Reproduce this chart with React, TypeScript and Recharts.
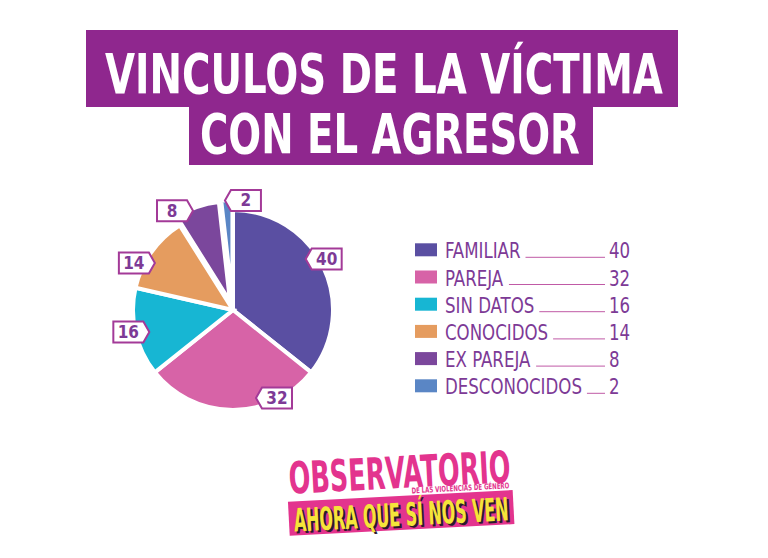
import React, { useLayoutEffect, useRef, useState } from 'react';
import { PieChart, Pie, Cell, Legend, Sector } from 'recharts';

const CATEGORIES = ['FAMILIAR', 'PAREJA', 'SIN DATOS', 'CONOCIDOS', 'EX PAREJA', 'DESCONOCIDOS'];
const VALUES = [40, 32, 16, 14, 8, 2];
const COLORS = ['#5a4fa2', '#d763a7', '#17b6d3', '#e59c5f', '#7b479c', '#5a86c5'];

// the two smallest slices are pulled out of the pie a little
const EXPLODE = [0, 0, 0, 0, 9, 10];

// small per-label nudges so the tags sit where the original puts them
const LABEL_NUDGE = [
    { da: 3.6, dr: 4 },
    { da: 25, dr: -3 },
    { da: -0.7, dr: 4 },
    { da: 9.3, dr: 7 },
    { da: 11, dr: 15 },
    { da: -8.4, dr: 10 },
];

const PURPLE = '#8f278e';
const TAG_PURPLE = '#a33a98';
const TEXT_PURPLE = '#7d3a96';
const LOGO_PINK = '#e3348e';
const CONDENSED = '"Liberation Sans Narrow", "DejaVu Sans Condensed", "Roboto Condensed", Roboto, sans-serif';
const LEGEND_SQUEEZE = 0.88;

const chartData = CATEGORIES.map((name, i) => ({ name, value: VALUES[i] }));

const renderSector = (props: any) => {
    const idx = typeof props.index === 'number' ? props.index : CATEGORIES.indexOf(props.name ?? props.payload?.name);
    const off = EXPLODE[idx] || 0;
    const a = (props.midAngle * Math.PI) / 180;
    return <Sector {...props} cx={props.cx + off * Math.cos(a)} cy={props.cy - off * Math.sin(a)} />;
};

const renderLabel = (props: any) => {
    const { cx, cy, midAngle, outerRadius, value, index } = props;
    const nudge = LABEL_NUDGE[index] || { da: 0, dr: 8 };
    const a = ((midAngle + nudge.da) * Math.PI) / 180;
    const r = outerRadius + nudge.dr;
    const x = cx + r * Math.cos(a);
    const y = cy - r * Math.sin(a);
    const pointLeft = x >= cx;
    const w = 36, h = 21, tip = 6;
    const l = x - w / 2, rt = x + w / 2, t = y - h / 2, b = y + h / 2;
    const d = pointLeft
        ? `M${l},${y} L${l + tip},${t} L${rt},${t} L${rt},${b} L${l + tip},${b} Z`
        : `M${l},${t} L${rt - tip},${t} L${rt},${y} L${rt - tip},${b} L${l},${b} Z`;
    const tx = pointLeft ? x + tip / 2 : x - tip / 2;
    return (
        <g>
            <path d={d} fill="#fff" stroke={TAG_PURPLE} strokeWidth={2} />
            <text x={tx} y={y + 6} textAnchor="middle" fontFamily={CONDENSED} fontWeight="bold" fontSize={17} fill={TEXT_PURPLE}>
                {value}
            </text>
        </g>
    );
};

const LegendRow = ({ i, name }: { i: number; name: string }) => {
    const ref = useRef<SVGTextElement>(null);
    const [lineStart, setLineStart] = useState(120);
    const base = 22.3 + 27.2 * i;

    useLayoutEffect(() => {
        if (ref.current) {
            const w = ref.current.getBBox().width * LEGEND_SQUEEZE;
            setLineStart(Math.min(35 + w + 5, 188));
        }
    }, [name]);

    return (
        <g>
            <rect x={5} y={base - 15} width={22} height={13} fill={COLORS[i]} />
            <text ref={ref} transform={`translate(35 ${base}) scale(${LEGEND_SQUEEZE} 1)`} fontFamily={CONDENSED} fontSize={21} fill={TEXT_PURPLE}>
                {name}
            </text>
            <line x1={lineStart} x2={195} y1={base - 1} y2={base - 1} stroke="#c05aa6" strokeWidth={1} />
            <text transform={`translate(199 ${base}) scale(${LEGEND_SQUEEZE} 1)`} fontFamily={CONDENSED} fontSize={21} fill={TEXT_PURPLE}>
                {VALUES[i]}
            </text>
        </g>
    );
};

const renderLegend = () => (
    <svg width={240} height={170}>
        {CATEGORIES.map((name, i) => (
            <LegendRow key={name} i={i} name={name} />
        ))}
    </svg>
);

// text squeezed horizontally to a target width (poster fonts are much narrower)
const FitText = ({ x, y, width, size, fill, children }: any) => {
    const ref = useRef<SVGTextElement>(null);
    const [sx, setSx] = useState(1);
    useLayoutEffect(() => {
        if (ref.current) {
            const w = ref.current.getBBox().width;
            if (w > 0) setSx(width / w);
        }
    }, [width, children]);
    return (
        <text ref={ref} transform={`translate(${x} ${y}) scale(${sx} 1)`} fontFamily={CONDENSED} fontWeight="bold" fontSize={size} fill={fill}>
            {children}
        </text>
    );
};

const Overlay: React.FC = () => (
    <svg width={768} height={558} style={{ position: 'absolute', left: 0, top: 0, pointerEvents: 'none' }}>
        <rect x={86} y={30} width={592} height={77} fill={PURPLE} />
        <rect x={189} y={104} width={404} height={61} fill={PURPLE} />
        <FitText x={105} y={93} width={558} size={56} fill="#fff">VINCULOS DE LA VÍCTIMA</FitText>
        <FitText x={200} y={153} width={380} size={56} fill="#fff">CON EL AGRESOR</FitText>

        <g transform="rotate(-3 400 500)">
            <FitText x={290} y={488} width={222} size={44} fill={LOGO_PINK}>OBSERVATORIO</FitText>
            <FitText x={412} y={494} width={98} size={8} fill={LOGO_PINK}>DE LAS VIOLENCIAS DE GÉNERO</FitText>
            <rect x={288} y={496} width={225} height={34} fill={LOGO_PINK} />
            <FitText x={295} y={528} width={215} size={32} fill="#2a1a2a">AHORA QUE SÍ NOS VEN</FitText>
            <FitText x={293} y={526} width={215} size={32} fill="#f4e53a">AHORA QUE SÍ NOS VEN</FitText>
        </g>
    </svg>
);

const App: React.FC = () => {
    return (
        <div style={{ position: 'absolute', left: 0, top: 0, width: 768, height: 558, background: '#fff' }}>
            <PieChart width={768} height={558} margin={{ top: 0, right: 0, bottom: 0, left: 0 }}>
                <Pie
                    data={chartData}
                    dataKey="value"
                    nameKey="name"
                    cx={233}
                    cy={310}
                    outerRadius={100}
                    startAngle={90}
                    endAngle={-270}
                    stroke="#fff"
                    strokeWidth={4}
                    labelLine={false}
                    label={renderLabel}
                    shape={renderSector}
                    isAnimationActive={false}
                >
                    {chartData.map((entry, index) => (
                        <Cell key={`cell-${index}`} fill={COLORS[index % COLORS.length]} />
                    ))}
                </Pie>
                <Legend content={renderLegend} wrapperStyle={{ left: 410, top: 236, width: 240, height: 170 }} />
            </PieChart>
            <Overlay />
        </div>
    );
};

export default App;
